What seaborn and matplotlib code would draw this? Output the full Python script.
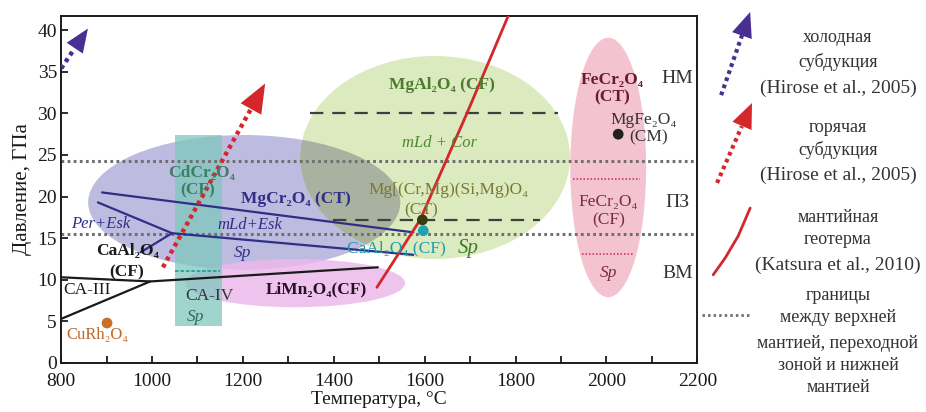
import matplotlib
matplotlib.use("Agg")
import matplotlib.pyplot as plt
import seaborn as sns
from matplotlib.patches import Ellipse, Rectangle, FancyArrowPatch

# ---------------------------------------------------------------- data
# Stability fields (ellipses): centre temperature / pressure and full extents
field_names = ["MgCr2O4", "LiMn2O4", "MgAl2O4", "FeCr2O4"]
field_T = [1203, 1315, 1623, 2004]
field_P = [19.3, 9.6, 24.7, 23.5]
field_dT = [687, 484, 594, 167]
field_dP = [16.2, 5.8, 24.4, 31.2]

# CdCr2O4 (CF) field (rectangle)
cdcr_T = [1050, 1155]
cdcr_P = [4.4, 27.4]

# MgCr2O4 phase boundaries
mgcr_a_T = [890, 1575]
mgcr_a_P = [20.5, 15.7]
mgcr_b_T = [881, 1044, 1575]
mgcr_b_P = [19.3, 15.6, 13.0]
mgcr_c_T = [1044, 975]
mgcr_c_P = [15.6, 13.3]

# CaAl2O4 boundaries (CA-III / CA-IV / CF)
caal_a_T = [800, 996, 1497]
caal_a_P = [10.3, 9.8, 11.5]
caal_b_T = [800, 996]
caal_b_P = [5.3, 9.8]
caal_c_T = [1050, 1150]
caal_c_P = [11.0, 11.0]

# MgAl2O4 boundaries
mgal_a_T = [1348, 1893]
mgal_a_P = [30.0, 30.0]
mgal_b_T = [1398, 1854]
mgal_b_P = [17.2, 17.2]

# FeCr2O4 boundaries
fecr_a_T = [1927, 2074]
fecr_a_P = [22.1, 22.1]
fecr_b_T = [1947, 2059]
fecr_b_P = [13.1, 13.1]

# Mantle geotherm (Katsura et al., 2010)
geo_T = [1495, 1541, 1590, 1693, 1790]
geo_P = [9.1, 13.0, 17.2, 30.0, 42.5]

# Subduction paths (Hirose et al., 2005): start and tip
hot_T = [1024, 1249]
hot_P = [11.5, 33.6]
cold_T = [800, 859]
cold_P = [35.4, 40.2]

# Mantle boundaries (410 / 660 km)
bound_P = [15.5, 24.3]
T_range = [800, 2200]

# Single-point phases
pt_names = ["CuRh2O4", "Mg[(Cr,Mg)(Si,Mg)O4", "CaAl2O4", "MgFe2O4"]
pt_T = [901, 1595, 1597, 2026]
pt_P = [4.8, 17.2, 15.9, 27.5]
pt_colors = ["#c8702a", "#3b3b12", "#1ba3b3", "#202020"]

# ---------------------------------------------------------------- style
sns.set_theme(style="ticks")
plt.rcParams["font.family"] = ["Liberation Serif", "DejaVu Serif"]
plt.rcParams["axes.linewidth"] = 1.4

fig = plt.figure(figsize=(9.26, 4.12), dpi=100)
ax = fig.add_axes([0.066, 0.119, 0.687, 0.842])

NAVY = "#2f2f88"
RED = "#d4272c"
BLUE = "#4a2f93"
GRAY = "#6f6f6f"

# ---------------------------------------------------------------- fields
face = {"MgCr2O4": "#bdbbdf", "LiMn2O4": "#ecb9ec",
        "MgAl2O4": "#dbeabf", "FeCr2O4": "#f3c4cf"}
ells = {}
for n, t, p, dt, dp in zip(field_names, field_T, field_P, field_dT, field_dP):
    e = Ellipse((t, p), dt, dp, facecolor=face[n], edgecolor="none", zorder=1)
    if n == "LiMn2O4":
        e.set_alpha(0.85)
    ax.add_patch(e)
    ells[n] = e

# darker tint where MgCr2O4 and MgAl2O4 fields overlap
ov = Ellipse((field_T[0], field_P[0]), field_dT[0], field_dP[0],
             facecolor="#a9b1a0", edgecolor="none", zorder=1.2)
ax.add_patch(ov)
ov.set_clip_path(ells["MgAl2O4"])

ax.add_patch(Rectangle((cdcr_T[0], cdcr_P[0]), cdcr_T[1] - cdcr_T[0],
                       cdcr_P[1] - cdcr_P[0], facecolor="#7fc8bd",
                       alpha=0.75, edgecolor="none", zorder=1.5))

# ---------------------------------------------------------------- lines
def line(x, y, **kw):
    sns.lineplot(x=x, y=y, ax=ax, sort=False, estimator=None, legend=False, **kw)

for P in bound_P:
    line(T_range, [P, P], color=GRAY, lw=2.2, linestyle=(0, (0.9, 1.1)), zorder=2)

line(mgcr_a_T, mgcr_a_P, color=NAVY, lw=1.6, zorder=3)
line(mgcr_b_T, mgcr_b_P, color=NAVY, lw=1.6, zorder=3)
line(mgcr_c_T, mgcr_c_P, color=NAVY, lw=1.6, zorder=3)
line(caal_a_T, caal_a_P, color="#1a1a1a", lw=1.6, zorder=3)
line(caal_b_T, caal_b_P, color="#1a1a1a", lw=1.6, zorder=3)
line(caal_c_T, caal_c_P, color="#2a9e9e", lw=1.3, linestyle=(0, (2, 1)), zorder=3)
line(mgal_a_T, mgal_a_P, color="#3f3f3f", lw=1.6, linestyle=(0, (6, 4)), zorder=3)
line(mgal_b_T, mgal_b_P, color="#3f3f3f", lw=1.6, linestyle=(0, (6, 4)), zorder=3)
line(fecr_a_T, fecr_a_P, color="#d8457d", lw=1.4, linestyle=(0, (0.8, 1.0)), zorder=3)
line(fecr_b_T, fecr_b_P, color="#d8457d", lw=1.4, linestyle=(0, (0.8, 1.0)), zorder=3)
line(geo_T, geo_P, color=RED, lw=2.0, zorder=3.5)


def path_arrow(axis, xs, ys, color, lw, head_len, head_w, frac):
    """Dotted shaft with a solid triangular head."""
    x0, x1 = xs
    y0, y1 = ys
    bx = x0 + (x1 - x0) * frac
    by = y0 + (y1 - y0) * frac
    sns.lineplot(x=[x0, bx], y=[y0, by], ax=axis, sort=False, estimator=None,
                 color=color, lw=lw, linestyle=(0, (0.9, 0.9)), zorder=4,
                 legend=False)
    axis.add_patch(FancyArrowPatch((bx, by), (x1, y1),
                   arrowstyle=f"-|>,head_length={head_len},head_width={head_w}",
                   mutation_scale=10, color=color, lw=0, shrinkA=0, shrinkB=0,
                   zorder=4, clip_on=False))


path_arrow(ax, hot_T, hot_P, RED, 3.2, 2.1, 0.85, 0.87)
path_arrow(ax, cold_T, cold_P, BLUE, 3.2, 1.7, 0.7, 0.5)

sns.scatterplot(x=pt_T, y=pt_P, ax=ax, hue=pt_names, palette=pt_colors,
                s=60, edgecolor="none", legend=False, zorder=5)

# ---------------------------------------------------------------- labels
def lab(t, p, s, color="#1a1a1a", size=12.5, **kw):
    ax.text(t, p, s, color=color, fontsize=size, ha="center", va="center",
            zorder=6, **kw)

lab(1110, 22.8, "CdCr₂O₄", "#3d7f62", weight="bold")
lab(1101, 20.7, "(CF)", "#3d7f62", weight="bold")
lab(1317, 19.7, "MgCr₂O₄ (CT)", NAVY, weight="bold")
lab(888, 16.7, "Per+Esk", NAVY, 12, style="italic")
lab(1216, 16.6, "mLd+Esk", NAVY, 12, style="italic")
lab(1200, 13.2, "Sp", NAVY, 12.5, style="italic")
lab(947, 13.5, "CaAl₂O₄", "#1a1a1a", weight="bold")
lab(945, 10.9, "(CF)", "#1a1a1a", weight="bold")
lab(857, 8.8, "CA-III", "#1a1a1a", 12.5)
lab(1126, 8.0, "CA-IV", "#333333", 12.5)
lab(1095, 5.5, "Sp", "#2d6e5f", 12.5, style="italic")
lab(880, 3.4, "CuRh₂O₄", "#c0682a", 12)
lab(1361, 8.8, "LiMn₂O₄(CF)", "#2a1025", weight="bold")
lab(1639, 33.4, "MgAl₂O₄ (CF)", "#4d7a2c", weight="bold")
lab(1632, 26.5, "mLd + Cor", "#4d8a2c", 12, style="italic")
lab(1652, 20.8, "Mg[(Cr,Mg)(Si,Mg)O₄", "#7a7a32", 12.5)
lab(1592, 18.4, "(CT)", "#7a7a32", 12.5)
lab(1537, 13.8, "CaAl₂O₄ (CF)", "#1e9cad", 12.5)
lab(1696, 13.8, "Sp", "#3f7a2a", 15, style="italic")
lab(2013, 34.0, "FeCr₂O₄", "#6b1a35", weight="bold")
lab(2013, 31.9, "(CT)", "#6b1a35", weight="bold")
lab(2081, 29.2, "MgFe₂O₄", "#333333", 12.5)
lab(2092, 27.1, "(CM)", "#333333", 12.5)
lab(2004, 19.3, "FeCr₂O₄", "#7a2a45", 12.5)
lab(2004, 17.1, "(CF)", "#7a2a45", 12.5)
lab(2004, 10.8, "Sp", "#7a2a45", 12.5, style="italic")
for p, s in zip([34.2, 19.3, 10.8], ["НМ", "ПЗ", "ВМ"]):
    lab(2156, p, s, "#333333", 14)

# ---------------------------------------------------------------- axes
ax.set_xlim(800, 2200)
ax.set_ylim(0, 41.7)
ax.set_xticks(range(800, 2201, 200))
ax.set_xticks(range(900, 2200, 200), minor=True)
ax.set_yticks(range(0, 41, 5))
ax.tick_params(which="both", direction="in", length=5, width=1.3,
               labelsize=14, colors="#1a1a1a")
ax.tick_params(axis="x", pad=7)
ax.tick_params(axis="y", pad=3)
for s in ax.spines.values():
    s.set_visible(True)
    s.set_color("#1a1a1a")
ax.set_xlabel("Температура, °C", fontsize=14, labelpad=1, color="#1a1a1a")
ax.set_ylabel("Давление, ГПа", fontsize=15, labelpad=4, color="#1a1a1a")

# ---------------------------------------------------------------- key
lax = fig.add_axes([0.755, 0.0, 0.245, 1.0])
lax.set_xlim(0, 1)
lax.set_ylim(0, 1)
lax.axis("off")

path_arrow(lax, [0.097, 0.225], [0.769, 0.971], BLUE, 3.0, 1.8, 0.75, 0.72)
path_arrow(lax, [0.079, 0.233], [0.556, 0.750], RED, 3.0, 1.8, 0.75, 0.71)
sns.lineplot(x=[0.062, 0.115, 0.172, 0.225], y=[0.333, 0.374, 0.427, 0.495],
             ax=lax, sort=False, estimator=None, color=RED, lw=2.0, legend=False)
sns.lineplot(x=[0.013, 0.225], y=[0.235, 0.235], ax=lax, sort=False,
             estimator=None, color=GRAY, lw=2.0, linestyle=(0, (0.9, 1.1)),
             legend=False)

key_text = [
    (38, "холодная"), (62, "субдукция"), (88, "(Hirose et al., 2005)"),
    (128, "горячая"), (150, "субдукция"), (175, "(Hirose et al., 2005)"),
    (217, "мантийная"), (240, "геотерма"), (265, "(Katsura et al., 2010)"),
    (295, "границы"), (318, "между верхней"), (343, "мантией, переходной"),
    (365, "зоной и нижней"), (387, "мантией"),
]
for py, s in key_text:
    size = 14 if s.startswith("(") else 13
    lax.text(0.612, 1 - py / 412, s, ha="center", va="center", fontsize=size,
             color="#333333")

fig.savefig("out.png", dpi=100)
